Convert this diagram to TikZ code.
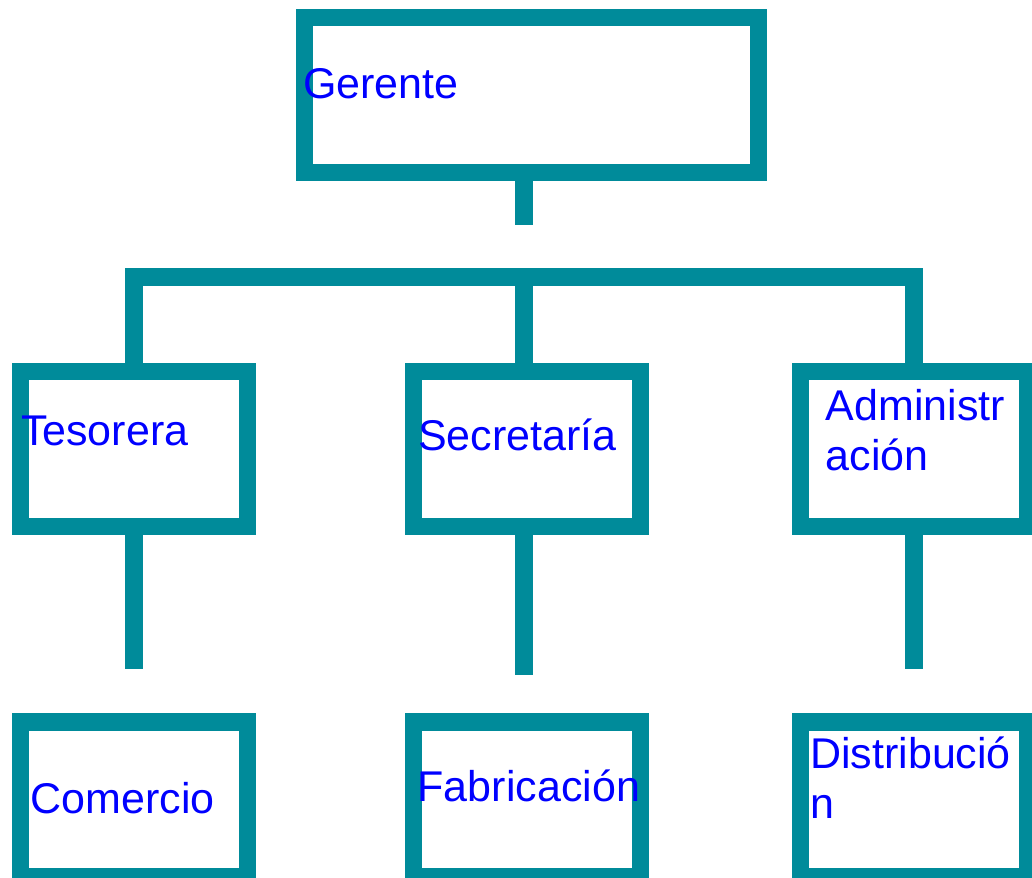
\documentclass[tikz,border=0pt]{standalone}
\usepackage{fontspec}
\setmainfont{Liberation Sans}
\usetikzlibrary{positioning}
\definecolor{orgteal}{RGB}{0,139,154}
\definecolor{orgblue}{RGB}{0,0,255}

\begin{document}
\begin{tikzpicture}[
    x=1pt, y=-1pt,
    obox/.style={draw=orgteal, line width=17.4pt, inner sep=0, minimum width=227pt, minimum height=155pt},
    otext/.style={text=orgblue, inner sep=0, anchor=base west, align=left, font=\fontsize{43}{50}\selectfont},
    oline/.style={draw=orgteal, line width=17.4pt}
]
\useasboundingbox (0,0) rectangle (1032,877);
\clip (0,0) rectangle (1032,877);

% Gerente
\node[obox, minimum width=454.5pt, minimum height=154.5pt] (gerente) at (531.5,95) {};

% second row
\node[obox] (tesorera) at (134,448.8) {};
\node[obox] (secretaria) at (527.2,448.8) {};
\node[obox] (admin) at (914,448.8) {};

% third row
\node[obox] (comercio) at (134,799.5) {};
\node[obox] (fabricacion) at (527.2,799.5) {};
\node[obox] (distribucion) at (914,799.5) {};

% connectors
\coordinate (trunk) at (524,277);
\coordinate (stub) at (524,225.3);
\coordinate (tesend) at (134,669.3);
\coordinate (secend) at (524,675);
\coordinate (admend) at (914,669.3);
\draw [oline] (gerente.south -| stub) -- (stub);
\draw [oline] (tesorera.north) -- (tesorera.north |- trunk) -- (admin.north |- trunk) -- (admin.north);
\draw [oline] (trunk) -- (secretaria.north -| trunk);
\draw [oline] (tesorera.south -| tesend) -- (tesend);
\draw [oline] (secretaria.south -| secend) -- (secend);
\draw [oline] (admin.south -| admend) -- (admend);

% labels (base = last line)
\node[otext] (gerente-t) at (303,98.3) {Gerente};
\node[otext] (tesorera-t) at (20.8,445) {Tesorera};
\node[otext] (secretaria-t) at (418,450) {Secretaría};
\node[otext] (admin-t) at (825.5,470.7) {Administr\\ación};
\node[otext] (comercio-t) at (30.3,813.3) {Comercio};
\node[otext] (fabricacion-t) at (417.5,801.7) {Fabricación};
\node[otext] (distribucion-t) at (810,818.3) {Distribució\\n};

\end{tikzpicture}
\end{document}
